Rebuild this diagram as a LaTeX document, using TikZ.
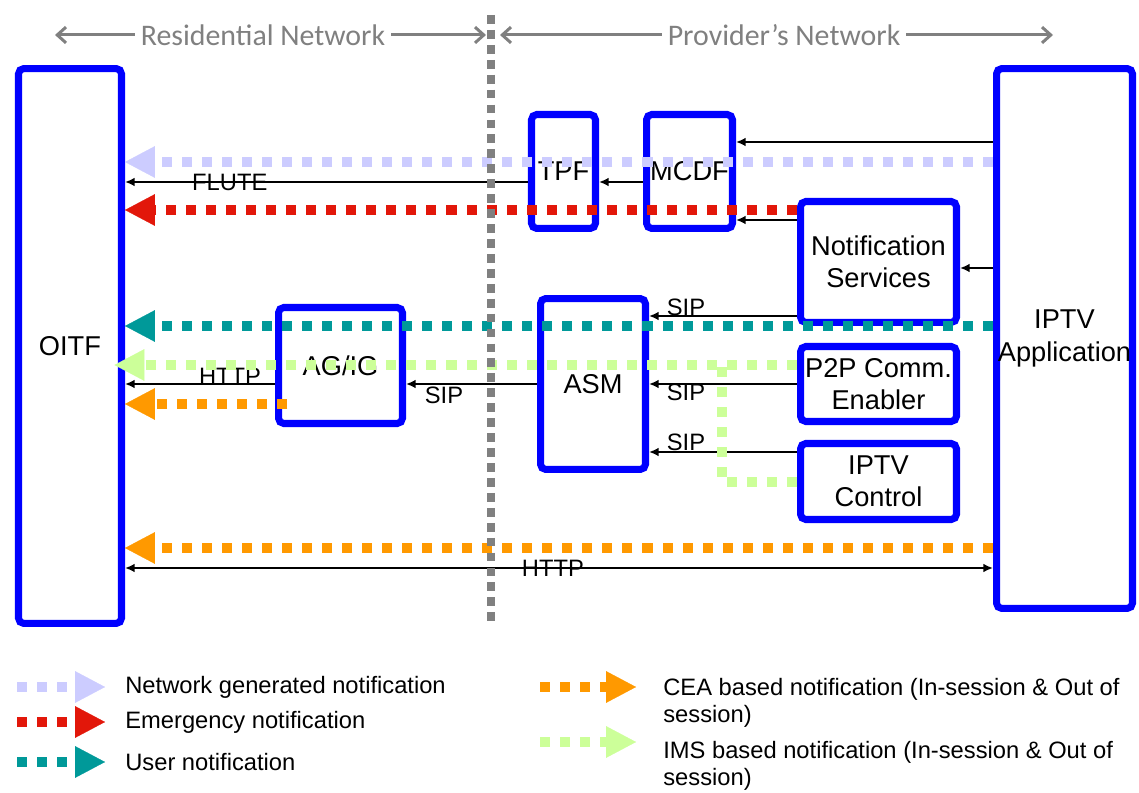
\documentclass[tikz,border=0pt]{standalone}
\usepackage{fontspec}
\setmainfont{Liberation Sans}
\newfontfamily\hdrfont{Carlito}
\usetikzlibrary{arrows.meta}
\definecolor{lavender}{HTML}{CCCCFF}
\definecolor{emergred}{HTML}{E2170A}
\definecolor{userteal}{HTML}{009999}
\definecolor{ceaorange}{HTML}{FF9900}
\definecolor{imsgreen}{HTML}{CCFF99}
\definecolor{divgray}{HTML}{808080}

\begin{document}
\begin{tikzpicture}[x=0.02cm,y=-0.02cm,
		box/.style={draw=blue,line width=4pt,rounded corners=3pt,align=center,inner sep=0pt,
			font=\fontsize{15.5}{18.5}\selectfont},
		sig/.style={line width=1.1pt,-{Latex[length=5.5pt,width=5pt]}},
		lbl/.style={font=\fontsize{13.5}{15}\selectfont,inner sep=0pt},
		note/.style={line width=6pt,dash pattern=on 5.7pt off 5.7pt,
			-{Triangle[length=17pt,width=18pt,line width=0.1pt]}},
		netw/.style={note,draw=lavender,color=lavender},
		emerg/.style={note,draw=emergred,color=emergred},
		user/.style={note,draw=userteal,color=userteal},
		cea/.style={note,draw=ceaorange,color=ceaorange},
		ims/.style={note,draw=imsgreen,color=imsgreen},
		hdr/.style={text=divgray,font=\hdrfont\fontsize{17}{20}\selectfont},
		hdrarr/.style={draw=divgray,line width=1.7pt,-{Straight Barb[length=5pt,width=9pt]}},
		legtxt/.style={anchor=west,inner sep=0pt,align=left,font=\fontsize{13.5}{15.5}\selectfont}]
	\useasboundingbox (0,0) rectangle (1139,793);

	\node[hdr] (resi) at (263,35) {Residential Network};
	\node[hdr] (prov) at (784,35) {Provider’s Network};
	\coordinate (resl) at (55,35);
	\coordinate (resr) at (486,35);
	\coordinate (provl) at (500,35);
	\coordinate (provr) at (1053,35);
	\draw[hdrarr] (resi.west) -- (resl);
	\draw[hdrarr] (resi.east) -- (resr);
	\draw[hdrarr] (prov.west) -- (provl);
	\draw[hdrarr] (prov.east) -- (provr);

	\node[box,minimum width=2.06cm,minimum height=11.1cm] (oitf) at (70,346) {OITF};
	\node[box,minimum width=2.72cm,minimum height=10.8cm] (iptvapp) at (1064.5,338.5) {IPTV\\Application};
	\node[box,minimum width=1.28cm,minimum height=2.28cm] (tpf) at (563.5,171.5) {TPF};
	\node[box,minimum width=1.72cm,minimum height=2.28cm] (mcdf) at (689.5,171.5) {MCDF};
	\node[box,minimum width=3.12cm,minimum height=2.42cm] (notif) at (878.5,262) {Notification\\Services};
	\node[box,minimum width=2.1cm,minimum height=3.42cm] (asm) at (593,384) {ASM};
	\node[box,minimum width=2.48cm,minimum height=2.32cm] (agig) at (340.5,365.5) {AG/IG};
	\node[box,minimum width=3.12cm,minimum height=1.5cm] (ptwop) at (878.5,384) {P2P Comm.\\Enabler};
	\node[box,minimum width=3.12cm,minimum height=1.52cm] (iptvctl) at (878.5,481.5) {IPTV\\Control};

	\draw[sig] (iptvapp.west |- 0,142) -- (mcdf.east |- 0,142);
	\draw[sig] (tpf.west |- 0,182) -- node[lbl,pos=0.74,fill=white,fill opacity=0,text opacity=1] {FLUTE} (oitf.east |- 0,182);
	\draw[sig] (mcdf.west |- 0,182) -- (tpf.east |- 0,182);
	\draw[sig] (notif.west |- 0,220) -- (mcdf.east |- 0,220);
	\draw[sig] (iptvapp.west |- 0,268) -- (notif.east |- 0,268);
	\draw[sig] (notif.west |- 0,316) -- node[lbl,pos=0.75,yshift=5pt] {SIP} (asm.east |- 0,316);
	\draw[sig] (agig.west |- 0,384) -- node[lbl,pos=0.3,yshift=4.5pt] {HTTP} (oitf.east |- 0,384);
	\draw[sig] (asm.west |- 0,384) -- node[lbl,pos=0.71,yshift=-6.2pt] {SIP} (agig.east |- 0,384);
	\draw[sig] (ptwop.west |- 0,384) -- node[lbl,pos=0.75,yshift=-5pt] {SIP} (asm.east |- 0,384);
	\draw[sig] (iptvctl.west |- 0,452) -- node[lbl,pos=0.75,yshift=5.7pt] {SIP} (asm.east |- 0,452);
	\draw[line width=1.1pt,{Latex[length=5.5pt,width=5pt]}-{Latex[length=5.5pt,width=5pt]}]
		(oitf.east |- 0,568) -- node[lbl,pos=0.493] {HTTP} (iptvapp.west |- 0,568);

	\coordinate (imsjoin) at (722,365);
	\draw[netw] (iptvapp.west |- 0,162) -- (oitf.east |- 0,162);
	\draw[emerg] (notif.west |- 0,210) -- (oitf.east |- 0,210);
	\draw[user] (iptvapp.west |- 0,326) -- (oitf.east |- 0,326);
	\draw[ims,shorten >=-6pt] (ptwop.west |- 0,365) -- (oitf.east |- 0,365);
	\draw[ims,-] (iptvctl.west |- 0,482) -| (imsjoin);
	\draw[cea,shorten <=-7pt] (agig.west |- 0,404) -- (oitf.east |- 0,404);
	\draw[cea] (iptvapp.west |- 0,548) -- (oitf.east |- 0,548);

	\draw[divgray,line width=4.5pt,dash pattern=on 5pt off 3.5pt] (491,15) -- (491,625);

	\node[legtxt] (lgnetw) at (125,687) {Network generated notification};
	\node[legtxt] (lgemerg) at (125,722) {Emergency notification};
	\node[legtxt] (lguser) at (125,762) {User notification};
	\node[legtxt,anchor=north west] (lgcea) at (663,678) {CEA based notification (In-session \& Out of\\session)};
	\node[legtxt,anchor=north west] (lgims) at (663,741) {IMS based notification (In-session \& Out of\\session)};
	\draw[netw] (17,687) -- (105,687);
	\draw[emerg] (17,722) -- (105,722);
	\draw[user] (17,762) -- (105,762);
	\draw[cea] (540,687) -- (636,687);
	\draw[ims] (540,742) -- (636,742);
\end{tikzpicture}
\end{document}
